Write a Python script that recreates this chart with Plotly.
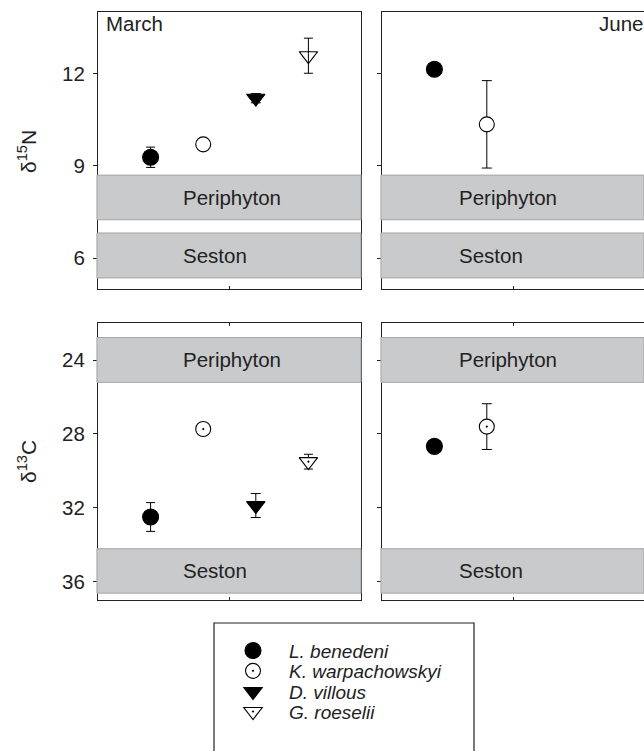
import plotly.graph_objects as go

# ---- data -------------------------------------------------------------
species = ["L. benedeni", "K. warpachowskyi", "D. villous", "G. roeselii"]
positions = [1, 2, 3, 4]

march_d15n = [9.28, 9.70, 11.20, 12.58]
march_d15n_se = [0.33, 0.12, 0.15, 0.57]
june_d15n = [12.14, 10.35]
june_d15n_se = [0.15, 1.42]

march_d13c = [32.50, 27.73, 31.88, 29.50]
march_d13c_se = [0.78, 0.15, 0.65, 0.40]
june_d13c = [28.67, 27.60]
june_d13c_se = [0.15, 1.24]

d15n_ticks = [6, 9, 12]
d13c_ticks = [24, 28, 32, 36]

# food-source ranges (low, high)
periphyton_d15n = [7.25, 8.70]
seston_d15n = [5.36, 6.82]
periphyton_d13c = [22.77, 25.20]
seston_d13c = [34.22, 36.63]

# ---- styling ----------------------------------------------------------
W, H = 644, 751
INK = "#222222"
FONT = "Liberation Sans, Arial, sans-serif"
FS = 20.5
CLEAR = "rgba(0,0,0,0)"
fills_n = ["black", "white", "black", CLEAR]
fills_c = ["black", "white", "black", "white"]
symbols_n = ["circle", "circle", "triangle-down", "triangle-down"]
symbols_c = ["circle", "circle-dot", "triangle-down", "triangle-down-dot"]
sizes = [16, 15, 16, 16]
cap_half = [4.5, 5, 5, 4.5]
legend_names = ["legend", "legend2", "legend3", "legend4"]
legend_rows_px = [650.7, 671.0, 691.7, 711.7]


def px_x(p):
    return p / W


def px_y(p):
    return 1 - p / H


fig = go.Figure()

panels = [
    ("x", "y", march_d15n, march_d15n_se, symbols_n, fills_n, False),
    ("x2", "y2", june_d15n, june_d15n_se, symbols_n, fills_n, False),
    ("x3", "y3", march_d13c, march_d13c_se, symbols_c, fills_c, True),
    ("x4", "y4", june_d13c, june_d13c_se, symbols_c, fills_c, False),
]

for xa, ya, vals, se, syms, fills, show in panels:
    for i, v in enumerate(vals):
        fig.add_trace(go.Scatter(
            x=[positions[i]], y=[v],
            xaxis=xa, yaxis=ya,
            mode="markers",
            name=species[i],
            legend=legend_names[i],
            showlegend=show,
            marker=dict(symbol=syms[i], size=sizes[i], color=fills[i],
                        line=dict(color="black", width=1.1)),
            error_y=dict(type="data", array=[se[i]], visible=True,
                         color="black", thickness=1, width=cap_half[i]),
        ))

# ---- axes -------------------------------------------------------------
left_dom = [px_x(98), px_x(361)]
right_dom = [px_x(382), 1.0]
top_dom = [px_y(289), px_y(12)]
bot_dom = [px_y(600), px_y(323.3)]

xcommon = dict(range=[0, 5], tickvals=[2.5], ticks="inside", ticklen=3,
               tickcolor=INK, showticklabels=False, showgrid=False,
               zeroline=False, showline=True, linecolor=INK, linewidth=1.2)
ycommon = dict(ticks="outside", ticklen=4, tickcolor=INK, showgrid=False,
               zeroline=False, showline=True, linecolor=INK, linewidth=1.2,
               ticklabelstandoff=4,
               tickfont=dict(family=FONT, size=FS, color=INK))

fig.update_layout(
    xaxis=dict(domain=left_dom, anchor="y", mirror=True, **xcommon),
    xaxis2=dict(domain=right_dom, anchor="y2", mirror=True, **xcommon),
    xaxis3=dict(domain=left_dom, anchor="y3", mirror="ticks", **xcommon),
    xaxis4=dict(domain=right_dom, anchor="y4", mirror="ticks", **xcommon),
    yaxis=dict(domain=top_dom, anchor="x", range=[5, 14], tickvals=d15n_ticks,
               mirror=True, **ycommon),
    yaxis2=dict(domain=top_dom, anchor="x2", range=[5, 14], tickvals=d15n_ticks,
                showticklabels=False, mirror=False, **ycommon),
    yaxis3=dict(domain=bot_dom, anchor="x3", range=[37, 22], tickvals=d13c_ticks,
                mirror=True, **ycommon),
    yaxis4=dict(domain=bot_dom, anchor="x4", range=[37, 22], tickvals=d13c_ticks,
                showticklabels=False, mirror=False, **ycommon),
)

# ---- source bands -----------------------------------------------------
shapes = []
annotations = []
bands = [
    ("x", "y", periphyton_d15n, "Periphyton", 1.58),
    ("x", "y", seston_d15n, "Seston", 1.58),
    ("x2", "y2", periphyton_d15n, "Periphyton", 1.44),
    ("x2", "y2", seston_d15n, "Seston", 1.44),
    ("x3", "y3", periphyton_d13c, "Periphyton", 1.58),
    ("x3", "y3", seston_d13c, "Seston", 1.58),
    ("x4", "y4", periphyton_d13c, "Periphyton", 1.44),
    ("x4", "y4", seston_d13c, "Seston", 1.44),
]
for xa, ya, rng, label, lx in bands:
    shapes.append(dict(type="rect", xref=xa + " domain", yref=ya,
                       x0=-0.004, x1=1.0, y0=rng[0], y1=rng[1],
                       fillcolor="#c9cacc", line=dict(color="#a5a5a5", width=1),
                       layer="above"))
    annotations.append(dict(xref=xa, yref=ya, x=lx, y=(rng[0] + rng[1]) / 2,
                            text=label, showarrow=False, xanchor="left",
                            yanchor="middle",
                            font=dict(family=FONT, size=FS, color=INK)))

# month labels
annotations.append(dict(xref="paper", yref="paper", x=px_x(104), y=px_y(24),
                        text="March", showarrow=False, xanchor="left",
                        yanchor="middle", font=dict(family=FONT, size=FS, color=INK)))
annotations.append(dict(xref="paper", yref="paper", x=px_x(597), y=px_y(24),
                        text="June", showarrow=False, xanchor="left",
                        yanchor="middle", font=dict(family=FONT, size=FS, color=INK)))

# axis titles
annotations.append(dict(xref="paper", yref="paper", x=px_x(27), y=px_y(152),
                        text="δ<sup>15</sup>N", textangle=-90, showarrow=False,
                        xanchor="center", yanchor="middle",
                        font=dict(family=FONT, size=21, color=INK)))
annotations.append(dict(xref="paper", yref="paper", x=px_x(27), y=px_y(462),
                        text="δ<sup>13</sup>C", textangle=-90, showarrow=False,
                        xanchor="center", yanchor="middle",
                        font=dict(family=FONT, size=21, color=INK)))

# legend frame
shapes.append(dict(type="rect", xref="paper", yref="paper",
                   x0=px_x(214), x1=px_x(474), y0=-0.05, y1=px_y(623),
                   line=dict(color=INK, width=1.2), fillcolor=CLEAR,
                   layer="above"))

# one single-entry legend per species, stacked inside the frame
legend_style = dict(xanchor="left", yanchor="middle", itemwidth=62,
                    bgcolor=CLEAR, borderwidth=0,
                    font=dict(family=FONT, size=19, color=INK, style="italic"),
                    itemclick=False, itemdoubleclick=False)
legend_layout = {name: dict(x=px_x(217), y=px_y(row), **legend_style)
                 for name, row in zip(legend_names, legend_rows_px)}

fig.update_layout(
    shapes=shapes,
    annotations=annotations,
    width=W, height=H,
    margin=dict(l=0, r=0, t=0, b=0),
    paper_bgcolor="white",
    plot_bgcolor="white",
    showlegend=True,
    **legend_layout,
)

fig.write_html("out.html")
